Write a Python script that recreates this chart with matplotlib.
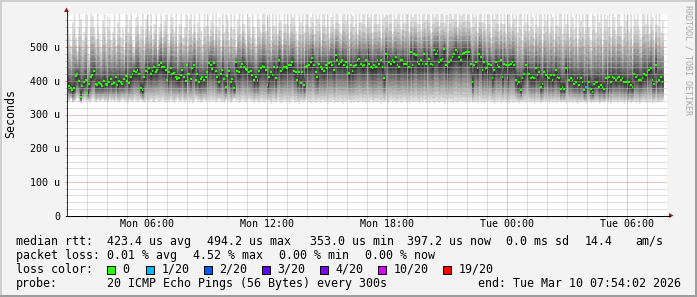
import numpy as np
import matplotlib
matplotlib.use("Agg")
import matplotlib.pyplot as plt
from matplotlib.patches import Polygon, Rectangle
from matplotlib.lines import Line2D
from matplotlib.ticker import FixedLocator

plt.rcParams['font.family'] = ['DejaVu Sans Mono']

# median rtt per 5 min step (microseconds), Mon 01:55 .. Tue 07:50
median_us = [
    390, 388, 395, 385, 378, 372, 380, 415, 420, 400, 353, 385, 398, 402, 365, 390, 410, 418, 428, 392, 388, 395, 390, 385, 400, 392, 388, 398, 405, 392,
    395, 410, 388, 400, 398, 392, 405, 415, 400, 395, 410, 420, 428, 425, 432, 420, 378, 372, 410, 430, 425, 438, 420, 430, 440, 425, 432, 448, 452, 440,
    440, 432, 402, 425, 437, 420, 422, 412, 405, 408, 418, 431, 410, 400, 446, 420, 405, 438, 446, 402, 420, 396, 405, 410, 402, 412, 425, 452, 448, 435,
    452, 428, 410, 396, 420, 432, 405, 381, 415, 428, 396, 405, 378, 455, 430, 425, 440, 450, 442, 435, 432, 425, 430, 418, 402, 410, 402, 430, 438, 445,
    440, 432, 387, 412, 425, 417, 440, 408, 440, 461, 430, 436, 442, 440, 438, 446, 448, 455, 430, 425, 402, 425, 393, 425, 387, 440, 445, 448, 455, 467,
    446, 425, 410, 450, 440, 436, 430, 446, 438, 452, 455, 446, 432, 476, 461, 450, 455, 461, 448, 455, 440, 422, 448, 430, 445, 446, 461, 465, 450, 445,
    446, 461, 481, 451, 441, 437, 446, 440, 461, 451, 461, 440, 407, 481, 471, 455, 451, 461, 455, 471, 446, 441, 461, 461, 450, 451, 455, 440, 486, 446,
    481, 476, 455, 451, 461, 451, 481, 451, 481, 466, 451, 446, 491, 481, 488, 455, 461, 466, 494, 446, 441, 455, 461, 471, 480, 492, 485, 472, 461, 481,
    483, 486, 471, 486, 451, 397, 446, 456, 437, 481, 471, 431, 456, 437, 426, 451, 446, 407, 431, 456, 446, 441, 461, 411, 451, 446, 407, 446, 451, 456,
    446, 402, 392, 397, 372, 407, 421, 446, 437, 421, 407, 411, 407, 437, 416, 426, 382, 392, 426, 416, 411, 407, 416, 402, 416, 431, 411, 407, 377, 382,
    377, 437, 431, 402, 407, 402, 392, 397, 407, 387, 407, 397, 372, 382, 407, 397, 377, 367, 392, 397, 397, 382, 387, 382, 377, 407, 377, 411, 397, 411,
    407, 402, 407, 411, 402, 407, 397, 397, 377, 397, 387, 382, 421, 411, 416, 402, 402, 407, 421, 416, 426, 431, 437, 402, 392, 446, 397, 402, 412, 397,
]

# slowest ping per step (top of the smoke)
max_us = [
    520, 560, 598, 540, 505, 575, 600, 530, 490, 600, 585, 520, 548, 600, 510, 480, 600, 595, 560, 525, 600, 540, 500, 580, 600, 515, 560, 590, 520, 545,
    600, 505, 575, 600, 530, 560, 495, 600, 545, 580, 600, 520, 500, 590, 600, 540, 565, 600, 510, 585, 600, 550, 600, 525, 570, 600, 495, 560, 600, 530,
    580, 600, 540, 515, 600, 590, 545, 600, 505, 570, 600, 530, 560, 600, 498, 585, 600, 540, 600, 520, 575, 600, 550, 510, 600, 565, 600, 535, 580, 600,
    525, 600, 560, 590, 505, 600, 545, 600, 580, 520, 600, 555, 600, 500, 585, 600, 540, 600, 570, 515, 600, 590, 530, 600, 560, 510, 600, 585, 545, 600,
    600, 550, 590, 600, 520, 600, 565, 600, 540, 600, 580, 510, 600, 570, 600, 535, 600, 590, 600, 550, 520, 600, 575, 600, 545, 600, 600, 560, 590, 600,
    540, 600, 585, 600, 520, 600, 600, 560, 600, 530, 590, 600, 555, 600, 600, 570, 540, 600, 600, 580, 600, 525, 600, 595, 560, 600, 540, 600, 575, 600,
    600, 560, 600, 590, 600, 545, 600, 600, 570, 600, 530, 600, 590, 600, 560, 600, 600, 540, 600, 585, 600, 600, 555, 600, 575, 600, 600, 545, 600, 590,
    600, 600, 570, 600, 555, 600, 600, 580, 600, 600, 545, 600, 590, 600, 600, 565, 600, 600, 575, 600, 540, 600, 600, 585, 600, 600, 560, 600, 595, 600,
    600, 580, 600, 600, 560, 600, 590, 600, 545, 600, 600, 575, 600, 555, 600, 600, 530, 600, 585, 600, 600, 550, 600, 570, 600, 540, 600, 600, 560, 600,
    585, 600, 545, 600, 600, 520, 600, 575, 600, 550, 600, 590, 530, 600, 560, 600, 600, 515, 600, 580, 600, 545, 600, 590, 525, 600, 565, 600, 600, 540,
    600, 570, 600, 530, 600, 590, 555, 600, 515, 600, 580, 600, 540, 600, 600, 560, 520, 600, 595, 545, 600, 575, 600, 510, 600, 585, 560, 600, 530, 600,
    590, 540, 600, 600, 565, 520, 600, 580, 600, 545, 600, 510, 600, 585, 600, 555, 530, 600, 600, 570, 600, 540, 600, 590, 520, 600, 565, 600, 545, 580,
]

# fastest ping per step (bottom of the smoke)
min_us = [
    345, 340, 338, 342, 348, 336, 340, 344, 350, 338, 335, 341, 346, 339, 343, 337, 340, 348, 342, 336, 344, 339, 341, 347, 338, 342, 336, 345, 340, 343,
    338, 344, 340, 336, 342, 347, 339, 341, 335, 344, 340, 338, 346, 342, 337, 340, 345, 339, 336, 343, 341, 338, 344, 340, 336, 347, 342, 339, 341, 345,
    340, 336, 343, 338, 345, 339, 335, 342, 348, 337, 341, 344, 336, 340, 346, 338, 342, 335, 341, 347, 339, 343, 336, 340, 345, 338, 342, 337, 344, 340,
    343, 337, 341, 346, 338, 340, 335, 344, 339, 342, 336, 341, 347, 338, 343, 336, 340, 345, 339, 337, 342, 346, 338, 341, 335, 344, 340, 337, 343, 339,
    336, 341, 345, 338, 334, 342, 339, 336, 344, 340, 335, 338, 343, 337, 341, 334, 339, 345, 336, 340, 338, 333, 342, 337, 340, 344, 336, 339, 335, 341,
    338, 335, 342, 339, 336, 344, 337, 340, 334, 341, 338, 343, 335, 339, 336, 342, 338, 334, 341, 337, 344, 339, 335, 340, 337, 342, 336, 339, 343, 338,
    340, 336, 342, 338, 344, 335, 339, 341, 337, 343, 334, 340, 338, 342, 336, 339, 345, 337, 341, 335, 338, 342, 336, 340, 344, 337, 339, 335, 341, 338,
    337, 342, 339, 335, 341, 338, 344, 336, 340, 337, 343, 339, 335, 341, 338, 336, 342, 339, 334, 340, 337, 343, 338, 335, 341, 339, 336, 342, 338, 340,
    339, 335, 341, 337, 343, 336, 338, 340, 334, 342, 337, 339, 335, 341, 338, 344, 336, 339, 333, 340, 337, 342, 335, 338, 341, 336, 339, 334, 340, 337,
    336, 340, 338, 334, 341, 337, 339, 335, 342, 338, 336, 340, 333, 339, 337, 341, 335, 338, 340, 336, 342, 334, 339, 337, 341, 335, 338, 340, 336, 339,
    338, 334, 340, 336, 339, 335, 341, 337, 333, 339, 336, 340, 338, 334, 337, 341, 335, 339, 336, 338, 340, 334, 337, 339, 335, 341, 336, 338, 334, 340,
    337, 339, 335, 340, 336, 338, 334, 341, 337, 339, 335, 338, 340, 336, 339, 333, 337, 341, 338, 335, 339, 336, 340, 334, 338, 341, 336, 339, 337, 340,
]

# lost pings (of 20) per step, only two steps lost one ping
loss = [0] * len(median_us)
loss[313] = 1
loss[314] = 1

loss_levels = [0, 1, 2, 3, 4, 10, 19]
loss_labels = ["0", "1/20", "2/20", "3/20", "4/20", "10/20", "19/20"]
loss_colors = ["#26ff00", "#00b8ff", "#0059ff", "#5e00ff", "#7e00ff", "#dd00ff", "#ff0000"]

tick_hours = [6, 12, 18, 24, 30]
tick_names = ["Mon 06:00", "Mon 12:00", "Mon 18:00", "Tue 00:00", "Tue 06:00"]
y_ticks = [0, 100, 200, 300, 400, 500]
y_names = ["0", "100 u", "200 u", "300 u", "400 u", "500 u"]

# hours since Mon 00:00
step_h = 5 / 60
last_h = 31 + 50 / 60
n = len(median_us)
t = last_h - step_h * np.arange(n - 1, -1, -1)

W, H = 697, 297
def fx(x):
    return x / W
def fy(y):
    return 1 - y / H

fig = plt.figure(figsize=(W / 100, H / 100), dpi=100, facecolor="#f3f3f3")

# rrdtool style shaded frame
fig.add_artist(Rectangle((0, fy(2)), 1, 2 / H, transform=fig.transFigure, color="#cfcfcf", lw=0))
fig.add_artist(Rectangle((0, 0), 2 / W, 1, transform=fig.transFigure, color="#cfcfcf", lw=0))
fig.add_artist(Rectangle((0, 0), 1, 2 / H, transform=fig.transFigure, color="#9e9e9e", lw=0))
fig.add_artist(Rectangle((fx(695), 0), 2 / W, 1, transform=fig.transFigure, color="#9e9e9e", lw=0))

ax = fig.add_axes([fx(66.5), fy(215.5), 600 / W, 202 / H])
ax.set_facecolor("white")
ax.set_xlim(2, 32)
ax.set_ylim(0, 600)

# smoke: 10 bands, light outside to dark near the median
med = np.array(median_us, float)
lo = np.array(min_us, float)
hi = np.array(max_us, float)
up_frac = [0, .2, .35, .47, .58, .68, .77, .85, .92, .97]
dn_frac = [0, .1, .2, .3, .4, .5, .6, .7, .8, .9]
for k in range(10):
    g = (19 * (9 - k) + 50) / 255
    ax.fill_between(t, lo + (med - lo) * dn_frac[k], hi - (hi - med) * up_frac[k],
                    step="pre", color=(g, g, g), lw=0, zorder=1, antialiased=False)

# median marks coloured by loss
cmap = dict(zip(loss_levels, loss_colors))
ax.hlines(med, t - step_h, t, colors=[cmap[l] for l in loss], lw=1.6, zorder=4)

# grid (dotted, drawn over the smoke like rrdtool does)
minor_c = "#bebebe"
major_c = "#d08a8a"
ax.set_xticks(tick_hours)
ax.set_xticklabels(tick_names)
ax.xaxis.set_minor_locator(FixedLocator([h for h in range(3, 32) if h % 6]))
ax.set_yticks(y_ticks)
ax.set_yticklabels(y_names)
ax.yaxis.set_minor_locator(FixedLocator([v for v in range(20, 600, 20) if v % 100]))
ax.set_axisbelow(False)
ax.grid(which="minor", color=minor_c, lw=0.72, ls=(0, (1, 1)))
ax.grid(which="major", color=major_c, lw=0.72, ls=(0, (1, 1)))
ax.tick_params(which="both", direction="out", length=1.5, width=0.72)
ax.tick_params(which="minor", color=minor_c)
ax.tick_params(which="major", color=major_c, labelsize=7.2)
ax.tick_params(axis="x", which="major", pad=1.0)
ax.tick_params(axis="y", which="major", pad=3.0)
for s in ax.spines.values():
    s.set_visible(False)

# axes with arrows
fig.add_artist(Line2D([fx(66.5), fx(66.5)], [fy(215.5), fy(10)], transform=fig.transFigure, color="#303030", lw=0.72))
fig.add_artist(Line2D([fx(66), fx(670)], [fy(215.5), fy(215.5)], transform=fig.transFigure, color="black", lw=0.72))
fig.add_artist(Polygon([(fx(64), fy(12)), (fx(69), fy(12)), (fx(66.5), fy(7.5))], closed=True,
                       transform=fig.transFigure, color="#9a1c1c", lw=0))
fig.add_artist(Polygon([(fx(669), fy(213)), (fx(669), fy(218)), (fx(673.5), fy(215.5))], closed=True,
                       transform=fig.transFigure, color="#9a1c1c", lw=0))

fig.text(fx(11), fy(114), "Seconds", rotation=90, ha="center", va="center", fontsize=8.4)
fig.text(fx(688), fy(5), "RRDTOOL / TOBI OETIKER", rotation=270, ha="center", va="top",
         fontsize=6, color="#a8a8a8")

# legend rows
fs = 8.4
rows = [
    (245, [(16, "median rtt:"), (107, "423.4 us avg"), (207, "494.2 us max"), (310, "353.0 us min"),
           (407, "397.2 us now"), (506, "0.0 ms sd"), (585, "14.4"), (635, "am/s")]),
    (259, [(16, "packet loss:"), (107, "0.01 % avg"), (193, "4.52 % max"), (279, "0.00 % min"), (365, "0.00 % now")]),
    (273, [(16, "loss color:")]),
    (287, [(16, "probe:"), (107, "20 ICMP Echo Pings (56 Bytes) every 300s"), (478, "end: Tue Mar 10 07:54:02 2026")]),
]
for base, items in rows:
    for x, s in items:
        fig.text(fx(x), fy(base), s, ha="left", va="baseline", fontsize=fs)

box_x = [107, 146, 204, 262, 320, 378, 443]
for bx, col, lab in zip(box_x, loss_colors, loss_labels):
    fig.add_artist(Rectangle((fx(bx), fy(274)), 8 / W, 8 / H, transform=fig.transFigure,
                             facecolor=col, edgecolor="black", lw=0.72))
    fig.text(fx(bx + 15.5), fy(273), lab, ha="left", va="baseline", fontsize=fs)

fig.savefig("out.png", dpi=100, facecolor=fig.get_facecolor())
